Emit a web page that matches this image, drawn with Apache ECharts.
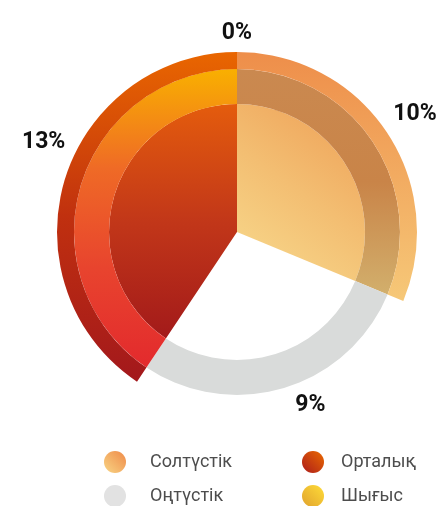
<!DOCTYPE html>
<html>
<head>
<meta charset="utf-8">
<script src="https://cdn.jsdelivr.net/npm/echarts@6/dist/echarts.min.js"></script>
<style>
  html, body { margin: 0; padding: 0; background: #fff; }
  #chart { width: 437px; height: 506px; }
</style>
</head>
<body>
<div id="chart"></div>
<script>
// regions in clockwise order from the top
const regions = ['Солтүстік', 'Оңтүстік', 'Орталық', 'Шығыс'];
const shares = [10, 9, 13, 0];
// legend layout: [column, row] for each region
const legendCells = {
  'Солтүстік': [0, 0],
  'Орталық': [1, 0],
  'Оңтүстік': [0, 1],
  'Шығыс': [1, 1]
};

function grad(x, y, x2, y2, stops) {
  return new echarts.graphic.LinearGradient(x, y, x2, y2,
    stops.map(function (c, i) { return { offset: i / (stops.length - 1), color: c }; }));
}

// colours of every layer, by region
const outerColors = {
  'Солтүстік': grad(0, 0, 0, 1, ['#EE8E4A', '#F6C878']),
  'Оңтүстік': 'rgba(0,0,0,0)',
  'Орталық': grad(0, 0, 0, 1, ['#E96600', '#C0300F', '#A3181C']),
  'Шығыс': 'rgba(0,0,0,0)'
};
const middleColors = {
  'Солтүстік': grad(0, 0, 0, 1, ['#CA8950', '#C98448', '#D2AF6C']),
  'Оңтүстік': '#D9DBDA',
  'Орталық': grad(0, 0, 0, 1, ['#F9B000', '#EF6A26', '#E8442E', '#E32A2D']),
  'Шығыс': 'rgba(0,0,0,0)'
};
const innerColors = {
  'Солтүстік': grad(1, 0, 0, 1, ['#EE9E55', '#F3BE72', '#F8DB8E']),
  'Оңтүстік': 'rgba(0,0,0,0)',
  'Орталық': grad(0, 0, 0, 1, ['#E45C0D', '#C23719', '#A31A1A']),
  'Шығыс': 'rgba(0,0,0,0)'
};
const legendColors = {
  'Солтүстік': grad(1, 0, 0, 1, ['#EF8A48', '#F8D585']),
  'Оңтүстік': '#E2E2E2',
  'Орталық': grad(1, 0, 0, 1, ['#EA6A00', '#AC1C1B']),
  'Шығыс': grad(1, 0, 0, 1, ['#FFDC38', '#E0A22E'])
};
// small label nudges so the value labels sit where the original has them
const labelNudge = {
  'Солтүстік': [-10, -10],
  'Оңтүстік': [-3, -12],
  'Орталық': [19, -33],
  'Шығыс': [20, -5]
};

function layerData(colors) {
  return regions.map(function (name, i) {
    return { name: name, value: shares[i], itemStyle: { color: colors[name] } };
  });
}

const center = [237, 232];
const colLeft = [104, 302];
const colTextPad = [19, 12];
const rowTop = [451, 485];

const legends = regions.map(function (name) {
  const cell = legendCells[name];
  return {
    left: colLeft[cell[0]],
    top: rowTop[cell[1]],
    padding: 0,
    icon: 'circle',
    itemWidth: 22,
    itemHeight: 22,
    data: [{ name: name, itemStyle: { color: legendColors[name] } }],
    textStyle: {
      fontSize: 18,
      color: '#4d4d4d',
      fontFamily: 'Roboto',
      padding: [0, 0, 0, colTextPad[cell[0]]]
    }
  };
});

const chart = echarts.init(document.getElementById('chart'));
chart.setOption({
  animation: false,
  textStyle: { fontFamily: 'Roboto' },
  legend: legends,
  series: [
    {
      type: 'pie',
      center: center,
      radius: [0, 128],
      silent: true,
      label: { show: false },
      labelLine: { show: false },
      data: layerData(innerColors)
    },
    {
      type: 'pie',
      center: center,
      radius: [128, 163],
      silent: true,
      label: { show: false },
      labelLine: { show: false },
      data: layerData(middleColors)
    },
    {
      type: 'pie',
      center: center,
      radius: [163, 180],
      silent: true,
      avoidLabelOverlap: false,
      label: {
        show: true,
        position: 'outside',
        formatter: '{c}%',
        fontSize: 23,
        fontWeight: 'bold',
        color: '#111'
      },
      labelLine: { show: false, length: 14, length2: 0 },
      labelLayout: function (params) {
        const n = labelNudge[regions[params.dataIndex]];
        return { dx: n[0], dy: n[1] };
      },
      data: layerData(outerColors)
    }
  ]
});
</script>
</body>
</html>
